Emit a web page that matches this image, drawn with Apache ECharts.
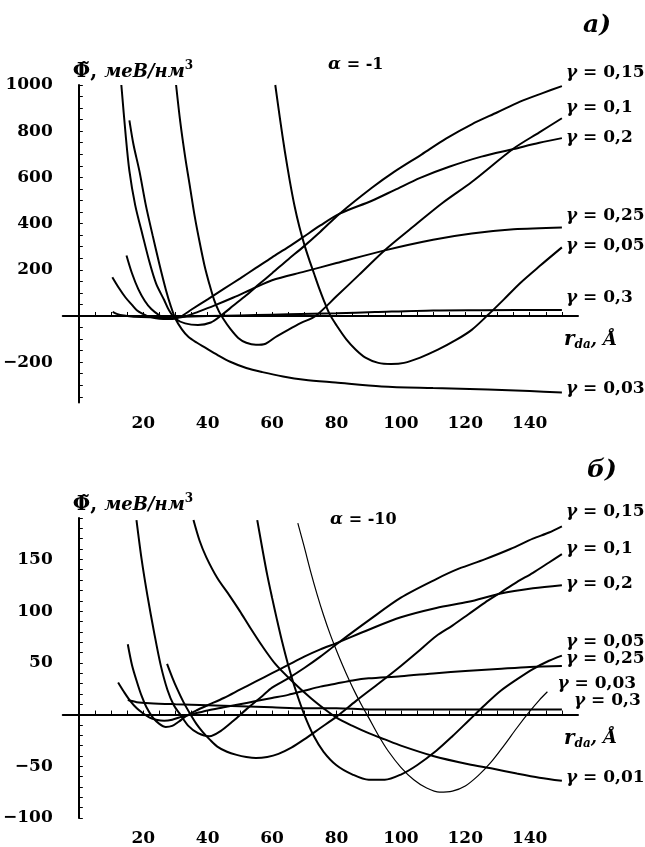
<!DOCTYPE html>
<html><head><meta charset="utf-8">
<script src="https://cdn.jsdelivr.net/npm/echarts@6/dist/echarts.min.js"></script>
<style>html,body{margin:0;padding:0;background:#fff}#c{width:645px;height:847px}</style>
</head><body><div id="c"></div>
<script>
// ---------- tick labels ----------
const xLabelValues = [20, 40, 60, 80, 100, 120, 140];
const yLabelValuesA = [-200, 200, 400, 600, 800, 1000];
const yLabelValuesB = [-100, -50, 50, 100, 150];

// ---------- panel a) alpha = -1 : [r_da, Phi] ----------
const a_g003 = [[15.7,847],[17,740],[18.8,628],[20.8,480],[22.9,350],[25,225],[27,115],[28.5,45],[30,-12],[32,-58],[34,-90],[36.7,-116],[39,-135],[43,-168],[47,-198],[52,-225],[57,-243],[63.4,-262],[70,-276],[79.7,-288],[94,-305],[110,-312],[127,-318],[140,-325],[150,-331]];
const a_g005 = [[61,1000],[62.5,850],[64,710],[65.5,585],[67,475],[68.5,385],[70,310],[71.5,245],[73,185],[74.5,125],[76,70],[77.8,10],[80,-40],[83,-100],[86,-146],[89,-180],[93,-203],[97,-208],[101,-203],[106,-180],[111.5,-146],[117,-105],[122,-60],[127,4],[132,72],[137,142],[143,215],[150,297]];
const a_g01 = [[30.2,1000],[31.5,840],[33,690],[34.5,560],[36,430],[37.5,320],[39,220],[40.5,140],[42,70],[43.5,20],[45,-15],[47,-55],[49.5,-95],[52,-116],[55,-125],[58,-120],[61,-92],[65,-60],[69,-30],[73.5,0],[80,85],[87,178],[95,285],[105,400],[113,490],[122,580],[135,725],[143,795],[150,856]];
const a_g015 = [[13.2,1000],[14.5,790],[15.7,628],[17.5,480],[19.8,350],[22,230],[24,140],[26.5,69],[28,25],[30,-12],[33,-32],[37,-39],[41,-28],[44,0],[48,45],[52,90],[56,138],[60,185],[65,245],[69.5,297],[75,365],[81,443],[91,555],[98,625],[106.5,700],[114,768],[122,830],[130,882],[137,928],[144,965],[150,995]];
const a_g02 = [[14.8,262],[16.5,185],[18.5,115],[20.5,65],[22.5,30],[25,3],[27,-10],[29,-13],[31.7,-2],[35,28],[40,72],[45,117],[50,162],[55,208],[60,254],[65,298],[69.5,340],[75,392],[81,443],[91,499],[98,545],[106,598],[115,646],[125,690],[135,723],[143,750],[150,770]];
const a_g025 = [[10.4,168],[12.5,120],[14.5,80],[16.5,48],[18,25],[19.7,10],[22,-4],[25,-12],[28,-13],[31,-7],[33.5,0],[37,18],[42,45],[48,80],[54,118],[60,155],[70,192],[80,229],[95,284],[110,330],[122,357],[135,375],[150,383]];
const a_g03 = [[10.5,18],[12,8],[14,2],[17,-3],[22,-5],[28,-4],[35,-2],[45,1],[55,4],[65,7],[80,12],[92,17],[110,24],[125,25],[150,26]];

// ---------- panel б) alpha = -10 ----------
const b_g001 = [[35.6,188],[37.5,168],[39.6,152],[43,132],[46.8,115],[50,100],[53,85],[57,66],[61,49],[66,33],[72,16],[76,6],[80,-3],[85,-11],[90,-18],[95,-24],[100,-30],[110,-40],[121,-48],[128,-52],[136,-57],[143,-61],[150,-64]];
const b_g003 = [[68,185],[70,162],[72,138],[74,116],[76,96],[78,78],[80,62],[82,47],[84,33],[86,20],[88,8],[90,-3],[93,-20],[96,-35],[100,-51],[104,-63],[108,-71],[112,-75],[116,-74],[120,-69],[124,-59],[128,-46],[132,-30],[136,-13],[140,3],[143,14],[145.5,22]];
const b_g005 = [[55.4,188],[57,160],[58.5,135],[60,113],[61.5,92],[63,72],[65,48],[67.5,22],[70,0],[73,-21],[76,-36],[80,-49],[85,-58],[90,-63],[95,-63],[100,-58],[105,-49],[111,-35],[116,-21],[121,-6],[126,9],[131,23],[136,34],[141,44],[146,52],[150,57]];
const b_g01 = [[27.4,49],[29,36],[30.5,25],[32.5,12],[34.5,1],[36.5,-9],[38.5,-17],[40.6,-24],[43,-31],[46,-36],[49,-39],[52,-41],[55,-42],[58.5,-41],[62,-38],[66,-32],[70,-24],[75,-13],[80,-2],[86,13],[93.5,31],[100,47],[105,60],[111,76],[116,86],[121,97],[126,108],[131,118],[136,128],[141,137],[146,147],[150,155]];
const b_g015 = [[17.9,188],[19.5,150],[21.3,115],[23.4,79],[25.4,48],[27.5,24],[29.5,9],[31.5,0],[34,-11],[37,-18],[40.6,-21],[44,-16],[48,-6],[52,5],[57,18],[60,26],[65,35],[70,45],[75,56],[80,68],[90,91],[100,113],[111,131],[118,141],[126,150],[134,160],[141,170],[146,176],[150,182]];
const b_g02 = [[15.2,68],[16.5,48],[18,32],[19.5,18],[21,7],[23,-3],[25,-9],[27,-12],[29,-11],[31,-7],[33.5,-1],[36.5,4],[40,9],[45,16],[50,24],[55,32],[60,40],[65,48],[70,56],[75,63],[80,69],[90,82],[100,94],[111,103],[121,109],[131,117],[141,122],[150,125]];
const b_g025 = [[12.2,31],[14,22],[16,13],[18,6],[20,1],[22,-3],[24,-5],[26.5,-6],[29,-5],[32,-2],[36,1],[40,4],[45,7],[50,10],[55,13],[60,16],[65,19],[70,23],[75,27],[80,30],[85,33],[90,35],[100,37],[111,40],[120,42],[130,44],[140,46],[150,47]];
const b_g03 = [[15.2,14],[18,12],[22,11],[30,10],[40,9],[50,8],[60,7],[70,6],[80,6],[90,5],[110,5],[130,5],[150,5]];

// ---------- helpers ----------
const FONT = "'DejaVu Serif', 'Liberation Serif', serif";
function range(a, b, s) { const r = []; for (let v = a; v <= b + 1e-9; v += s) r.push(v); return r; }
const xTickValues = range(5, 150, 5);
const yTickValuesA = range(-350, 1000, 50);
const yTickValuesB = range(-100, 190, 10);
const fmt = v => (v < 0 ? '\u2212' + (-v) : '' + v);

const labelRich = {
  g: { fontFamily: FONT, fontWeight: 'bold', fontStyle: 'italic', fontSize: 17, color: '#000' },
  t: { fontFamily: FONT, fontWeight: 'bold', fontSize: 17, color: '#000' }
};
function mkSeries(name, data, xi, gText, offset, width) {
  return {
    type: 'line', name: name, data: data, xAxisIndex: xi, yAxisIndex: xi,
    showSymbol: false, symbol: 'none', smooth: 0.3,
    lineStyle: { color: '#000', width: width || 2 },
    silent: true, clip: true,
    endLabel: { show: true, distance: 4, offset: offset, formatter: '{g|γ}{t| = ' + gText + '}', rich: labelRich }
  };
}

function xAxisCfg(gi) {
  return {
    gridIndex: gi, type: 'value', min: -5, max: 155, interval: 5,
    axisLine: { onZero: true, lineStyle: { color: '#000', width: 2 } },
    axisTick: { show: true, inside: true, length: 4, customValues: xTickValues, lineStyle: { color: '#000', width: 1 } },
    axisLabel: { customValues: xLabelValues, formatter: fmt, fontFamily: FONT, fontWeight: 'bold', fontSize: 17, color: '#000', margin: 12 },
    splitLine: { show: false },
    name: '{r|r}{s|da}{n|, Å}', nameLocation: 'end', nameGap: -14,
    nameTextStyle: {
      align: 'left', verticalAlign: 'top', padding: [13, 0, 0, 0],
      rich: {
        r: { fontFamily: FONT, fontWeight: 'bold', fontStyle: 'italic', fontSize: 20, color: '#000', lineHeight: 22 },
        s: { fontFamily: FONT, fontWeight: 'bold', fontStyle: 'italic', fontSize: 12, color: '#000', verticalAlign: 'bottom', lineHeight: 14 },
        n: { fontFamily: FONT, fontWeight: 'bold', fontStyle: 'italic', fontSize: 18, color: '#000', lineHeight: 22 }
      }
    }
  };
}
function yAxisCfg(gi, min, max, interval, ticks, labels) {
  return {
    gridIndex: gi, type: 'value', min: min, max: max, interval: interval,
    axisLine: { onZero: true, lineStyle: { color: '#000', width: 2 } },
    axisTick: { show: true, inside: true, length: 4, customValues: ticks, lineStyle: { color: '#000', width: 1 } },
    axisLabel: { customValues: labels, formatter: fmt, fontFamily: FONT, fontWeight: 'bold', fontSize: 17, color: '#000', margin: 10 },
    splitLine: { show: false },
    name: '{p|Φ̃, }{u|меВ/нм}{e|3}', nameLocation: 'end', nameGap: 1,
    nameTextStyle: {
      align: 'left', verticalAlign: 'bottom', padding: [0, 0, 0, -6],
      rich: {
        p: { fontFamily: FONT, fontWeight: 'bold', fontSize: 20, color: '#000', lineHeight: 24 },
        u: { fontFamily: FONT, fontWeight: 'bold', fontStyle: 'italic', fontSize: 18, color: '#000', lineHeight: 24 },
        e: { fontFamily: FONT, fontWeight: 'bold', fontSize: 12, color: '#000', verticalAlign: 'top', lineHeight: 16 }
      }
    }
  };
}

const chart = echarts.init(document.getElementById('c'), null, { renderer: 'canvas' });
chart.setOption({
  animation: false,
  backgroundColor: '#fff',
  grid: [
    { left: 57, right: 67, top: 85, height: 317.6 },
    { left: 57, right: 67, top: 518, height: 319.4 }
  ],
  xAxis: [xAxisCfg(0), xAxisCfg(1)],
  yAxis: [
    yAxisCfg(0, -375, 1000, 25, yTickValuesA, yLabelValuesA),
    yAxisCfg(1, -100, 190, 10, yTickValuesB, yLabelValuesB)
  ],
  series: [
    mkSeries('a γ=0.15', a_g015, 0, '0,15', [0, -14]),
    mkSeries('a γ=0.1', a_g01, 0, '0,1', [0, -11]),
    mkSeries('a γ=0.2', a_g02, 0, '0,2', [0, -1]),
    mkSeries('a γ=0.25', a_g025, 0, '0,25', [0, -12]),
    mkSeries('a γ=0.05', a_g005, 0, '0,05', [0, -2]),
    mkSeries('a γ=0.3', a_g03, 0, '0,3', [0, -12]),
    mkSeries('a γ=0.03', a_g003, 0, '0,03', [0, -4]),
    mkSeries('b γ=0.15', b_g015, 1, '0,15', [0, -15]),
    mkSeries('b γ=0.1', b_g01, 1, '0,1', [0, -6]),
    mkSeries('b γ=0.2', b_g02, 1, '0,2', [0, -2]),
    mkSeries('b γ=0.05', b_g005, 1, '0,05', [0, -14]),
    mkSeries('b γ=0.25', b_g025, 1, '0,25', [0, -7]),
    mkSeries('b γ=0.03', b_g003, 1, '0,03', [6, -8], 1.2),
    mkSeries('b γ=0.3', b_g03, 1, '0,3', [8, -9]),
    mkSeries('b γ=0.01', b_g001, 1, '0,01', [0, -3])
  ],
  graphic: [
    { type: 'text', x: 583, y: 25, style: { text: 'а)', fill: '#000', fontFamily: FONT, fontWeight: 'bold', fontStyle: 'italic', fontSize: 25, verticalAlign: 'middle' } },
    { type: 'text', x: 587, y: 470, style: { text: 'б)', fill: '#000', fontFamily: FONT, fontWeight: 'bold', fontStyle: 'italic', fontSize: 25, verticalAlign: 'middle' } },
    { type: 'text', x: 328, y: 65, style: { text: '{a|α}{b| = -1}', verticalAlign: 'middle', rich: {
      a: { fontFamily: FONT, fontWeight: 'bold', fontStyle: 'italic', fontSize: 17, fill: '#000' },
      b: { fontFamily: FONT, fontWeight: 'bold', fontSize: 16, fill: '#000' } } } },
    { type: 'text', x: 330, y: 520, style: { text: '{a|α}{b| = -10}', verticalAlign: 'middle', rich: {
      a: { fontFamily: FONT, fontWeight: 'bold', fontStyle: 'italic', fontSize: 17, fill: '#000' },
      b: { fontFamily: FONT, fontWeight: 'bold', fontSize: 16, fill: '#000' } } } }
  ]
});
</script>
</body></html>
